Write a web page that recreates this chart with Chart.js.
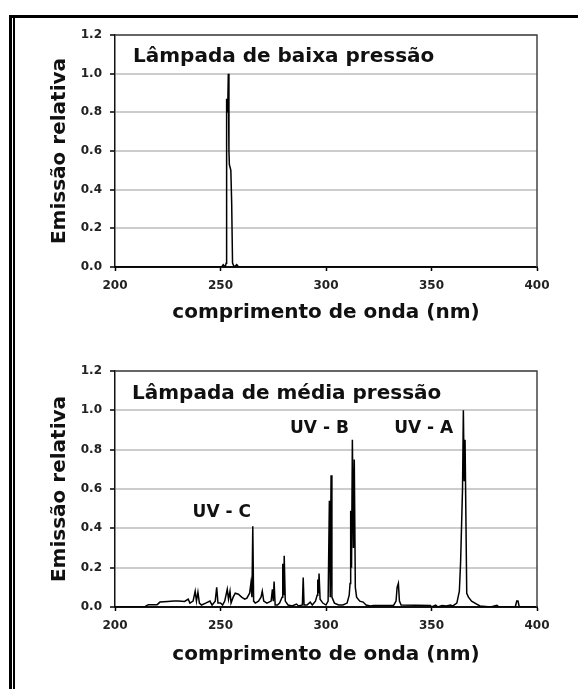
<!DOCTYPE html>
<html>
<head>
<meta charset="utf-8">
<script src="https://cdn.jsdelivr.net/npm/chart.js@4"></script>
<style>
  html, body { margin: 0; padding: 0; background: #fff; width: 578px; height: 689px; overflow: hidden; }
  .frame { position: absolute; left: 9px; top: 15px; right: 0; bottom: 0; border-top: 3px solid #000; border-left: 3px solid #000; }
  .frame::before { content: ''; position: absolute; left: 1px; top: 0; bottom: 0; border-left: 2px solid #000; }
  canvas { position: absolute; left: 0; }
  #low { top: 0; }
  #medium { top: 340px; }
</style>
</head>
<body>
<div class="frame"></div>
<canvas id="low" width="578" height="340"></canvas>
<canvas id="medium" width="578" height="349"></canvas>
<script>
// low pressure lamp: wavelength (nm) and relative emission
const lowWavelength = [200, 250.5, 251.3, 252.2, 252.7, 252.9, 253.4, 253.7, 254.0, 254.2, 254.9, 255.3, 255.7, 256.5, 257.7, 258.6, 400];
const lowEmission   = [0,   0,     0.012, 0,     0.02,  0.87,  0.8,   1.0,   0.6,   0.53,  0.5,   0.33,  0.02,  0,     0.012, 0,     0];

// medium pressure lamp
const mediumWavelength = [
  200, 214, 215.8, 218, 220, 221.3, 225, 228, 230, 233, 234.7, 235.5, 237, 238, 238.6, 239.3, 240, 241,
  243, 245, 246, 247.5, 248.2, 248.8, 250, 251, 252, 253.2, 253.8, 254.5, 255, 256, 257, 258.5, 260,
  261.5, 262.5, 263.8, 264.4, 264.9, 265.3, 265.7, 266.5, 268, 269.2, 269.8, 270.5, 272, 274, 274.6,
  275, 275.4, 275.9, 277, 278, 279.2, 279.5, 280, 280.2, 280.7, 282, 284, 286, 287, 288.8, 289.2, 289.6,
  291, 292.5, 293.5, 295, 295.8, 296.1, 296.5, 296.7, 297.2, 298.5, 300, 301, 301.6, 302, 302.4, 302.8,
  304, 306, 308, 310, 311, 311.4, 311.7, 312.1, 312.5, 313, 313.4, 313.9, 314.5, 316, 317.6, 319, 321,
  322.6, 332, 333.2, 333.7, 334.3, 334.8, 335.6, 349.5, 350, 352, 353, 355, 357, 359, 360, 362, 363.2,
  363.8, 364.7, 365.1, 365.5, 365.9, 366.2, 366.7, 367.5, 369, 371.4, 373, 378, 381, 382, 389.7, 390.4,
  391, 391.6, 400
];
const mediumEmission = [
  0, 0, 0.012, 0.012, 0.012, 0.025, 0.028, 0.03, 0.03, 0.028, 0.04, 0.02, 0.03, 0.08, 0.03, 0.075, 0.02, 0.01,
  0.02, 0.03, 0.01, 0.03, 0.1, 0.02, 0.02, 0.01, 0.03, 0.09, 0.04, 0.08, 0.02, 0.05, 0.07, 0.065, 0.05,
  0.04, 0.045, 0.07, 0.12, 0.05, 0.41, 0.03, 0.02, 0.03, 0.05, 0.08, 0.03, 0.02, 0.03, 0.09,
  0.03, 0.13, 0.01, 0.01, 0.02, 0.05, 0.22, 0.06, 0.26, 0.03, 0.01, 0.005, 0.015, 0.005, 0.01, 0.15, 0.01,
  0.01, 0.025, 0.01, 0.03, 0.06, 0.14, 0.07, 0.17, 0.04, 0.02, 0.01, 0.03, 0.54, 0.05, 0.67, 0.05,
  0.02, 0.01, 0.01, 0.02, 0.06, 0.12, 0.49, 0.2, 0.85, 0.3, 0.75, 0.1, 0.05, 0.03, 0.025, 0.01, 0.005,
  0.008, 0.008, 0.03, 0.1, 0.12, 0.03, 0.01, 0.008, 0, 0.01, 0, 0.008, 0.005, 0.01, 0.005, 0.02, 0.08,
  0.23, 0.6, 1.0, 0.64, 0.85, 0.85, 0.07, 0.05, 0.03, 0.015, 0.005, 0, 0.008, 0, 0, 0.03,
  0.03, 0, 0
];

const bandLabels = ['UV - C', 'UV - B', 'UV - A'];
const bandLabelX = [250.6, 296.9, 346.3];
const bandLabelY = [0.458, 0.885, 0.885];

const xTitle = 'comprimento de onda (nm)';
const yTitle = 'Emissão relativa';

const FONT = "'DejaVu Sans', Verdana, sans-serif";

// frame on top and right of the plot, plus text inside the plot
const plotText = {
  id: 'plotText',
  afterDatasetsDraw(chart, args, opts) {
    const {ctx, chartArea: a, scales} = chart;
    ctx.save();
    ctx.strokeStyle = '#444';
    ctx.lineWidth = 1.5;
    ctx.beginPath();
    ctx.moveTo(a.left, a.top);
    ctx.lineTo(a.right, a.top);
    ctx.lineTo(a.right, a.bottom);
    ctx.stroke();
    ctx.fillStyle = '#111';
    ctx.textBaseline = 'alphabetic';
    ctx.textAlign = 'left';
    ctx.font = 'bold 20px ' + FONT;
    ctx.fillText(opts.title, a.left + opts.titleDx, a.top + opts.titleDy);
    ctx.font = 'bold 17px ' + FONT;
    ctx.textAlign = 'center';
    (opts.labels || []).forEach((t, i) => {
      ctx.fillText(t, scales.x.getPixelForValue(opts.lx[i]), scales.y.getPixelForValue(opts.ly[i]));
    });
    ctx.restore();
  }
};

function makeChart(id, xs, ys, cfg) {
  return new Chart(document.getElementById(id), {
    type: 'line',
    plugins: [plotText],
    data: {
      datasets: [{
        data: xs.map((x, i) => ({x: x, y: ys[i]})),
        borderColor: '#000',
        borderWidth: 1.5,
        pointRadius: 0,
        tension: 0,
        fill: false
      }]
    },
    options: {
      responsive: false,
      animation: false,
      layout: { padding: { top: cfg.top, right: 41, left: 0, bottom: 0 } },
      plugins: {
        legend: { display: false },
        tooltip: { enabled: false },
        plotText: cfg.text
      },
      scales: {
        x: {
          type: 'linear',
          min: 200, max: 400,
          afterFit: (s) => { s.height = cfg.xHeight; },
          ticks: { stepSize: 50, padding: 8, color: '#222', font: { family: FONT, size: 12, weight: 'bold' } },
          grid: { drawOnChartArea: false, tickLength: 4, tickColor: '#000', tickWidth: 1.5 },
          border: { color: '#111', width: 2 },
          title: {
            display: true, text: xTitle, color: '#111',
            font: { family: FONT, size: 20, weight: 'bold', lineHeight: 1.2 },
            padding: { top: 0, bottom: cfg.xTitlePad }
          }
        },
        y: {
          min: 0, max: 1.2,
          afterFit: (s) => { s.width = 115; },
          ticks: {
            stepSize: 0.2, padding: 8, color: '#222',
            font: { family: FONT, size: 12, weight: 'bold' },
            callback: (v) => v.toFixed(1)
          },
          grid: { color: '#cccccc', lineWidth: 2, tickLength: 5, tickColor: '#000', tickWidth: 1.5 },
          border: { color: '#111', width: 1.5 },
          title: {
            display: true, text: yTitle, color: '#111',
            font: { family: FONT, size: 20, weight: 'bold', lineHeight: 1.2 },
            padding: { top: 48, bottom: 0 }
          }
        }
      }
    }
  });
}

makeChart('low', lowWavelength, lowEmission, {
  top: 35, xHeight: 73, xTitlePad: 15,
  text: { title: 'Lâmpada de baixa pressão', titleDx: 18, titleDy: 27 }
});

makeChart('medium', mediumWavelength, mediumEmission, {
  top: 31, xHeight: 82, xTitlePad: 22,
  text: { title: 'Lâmpada de média pressão', titleDx: 17, titleDy: 28, labels: bandLabels, lx: bandLabelX, ly: bandLabelY }
});
</script>
</body>
</html>
